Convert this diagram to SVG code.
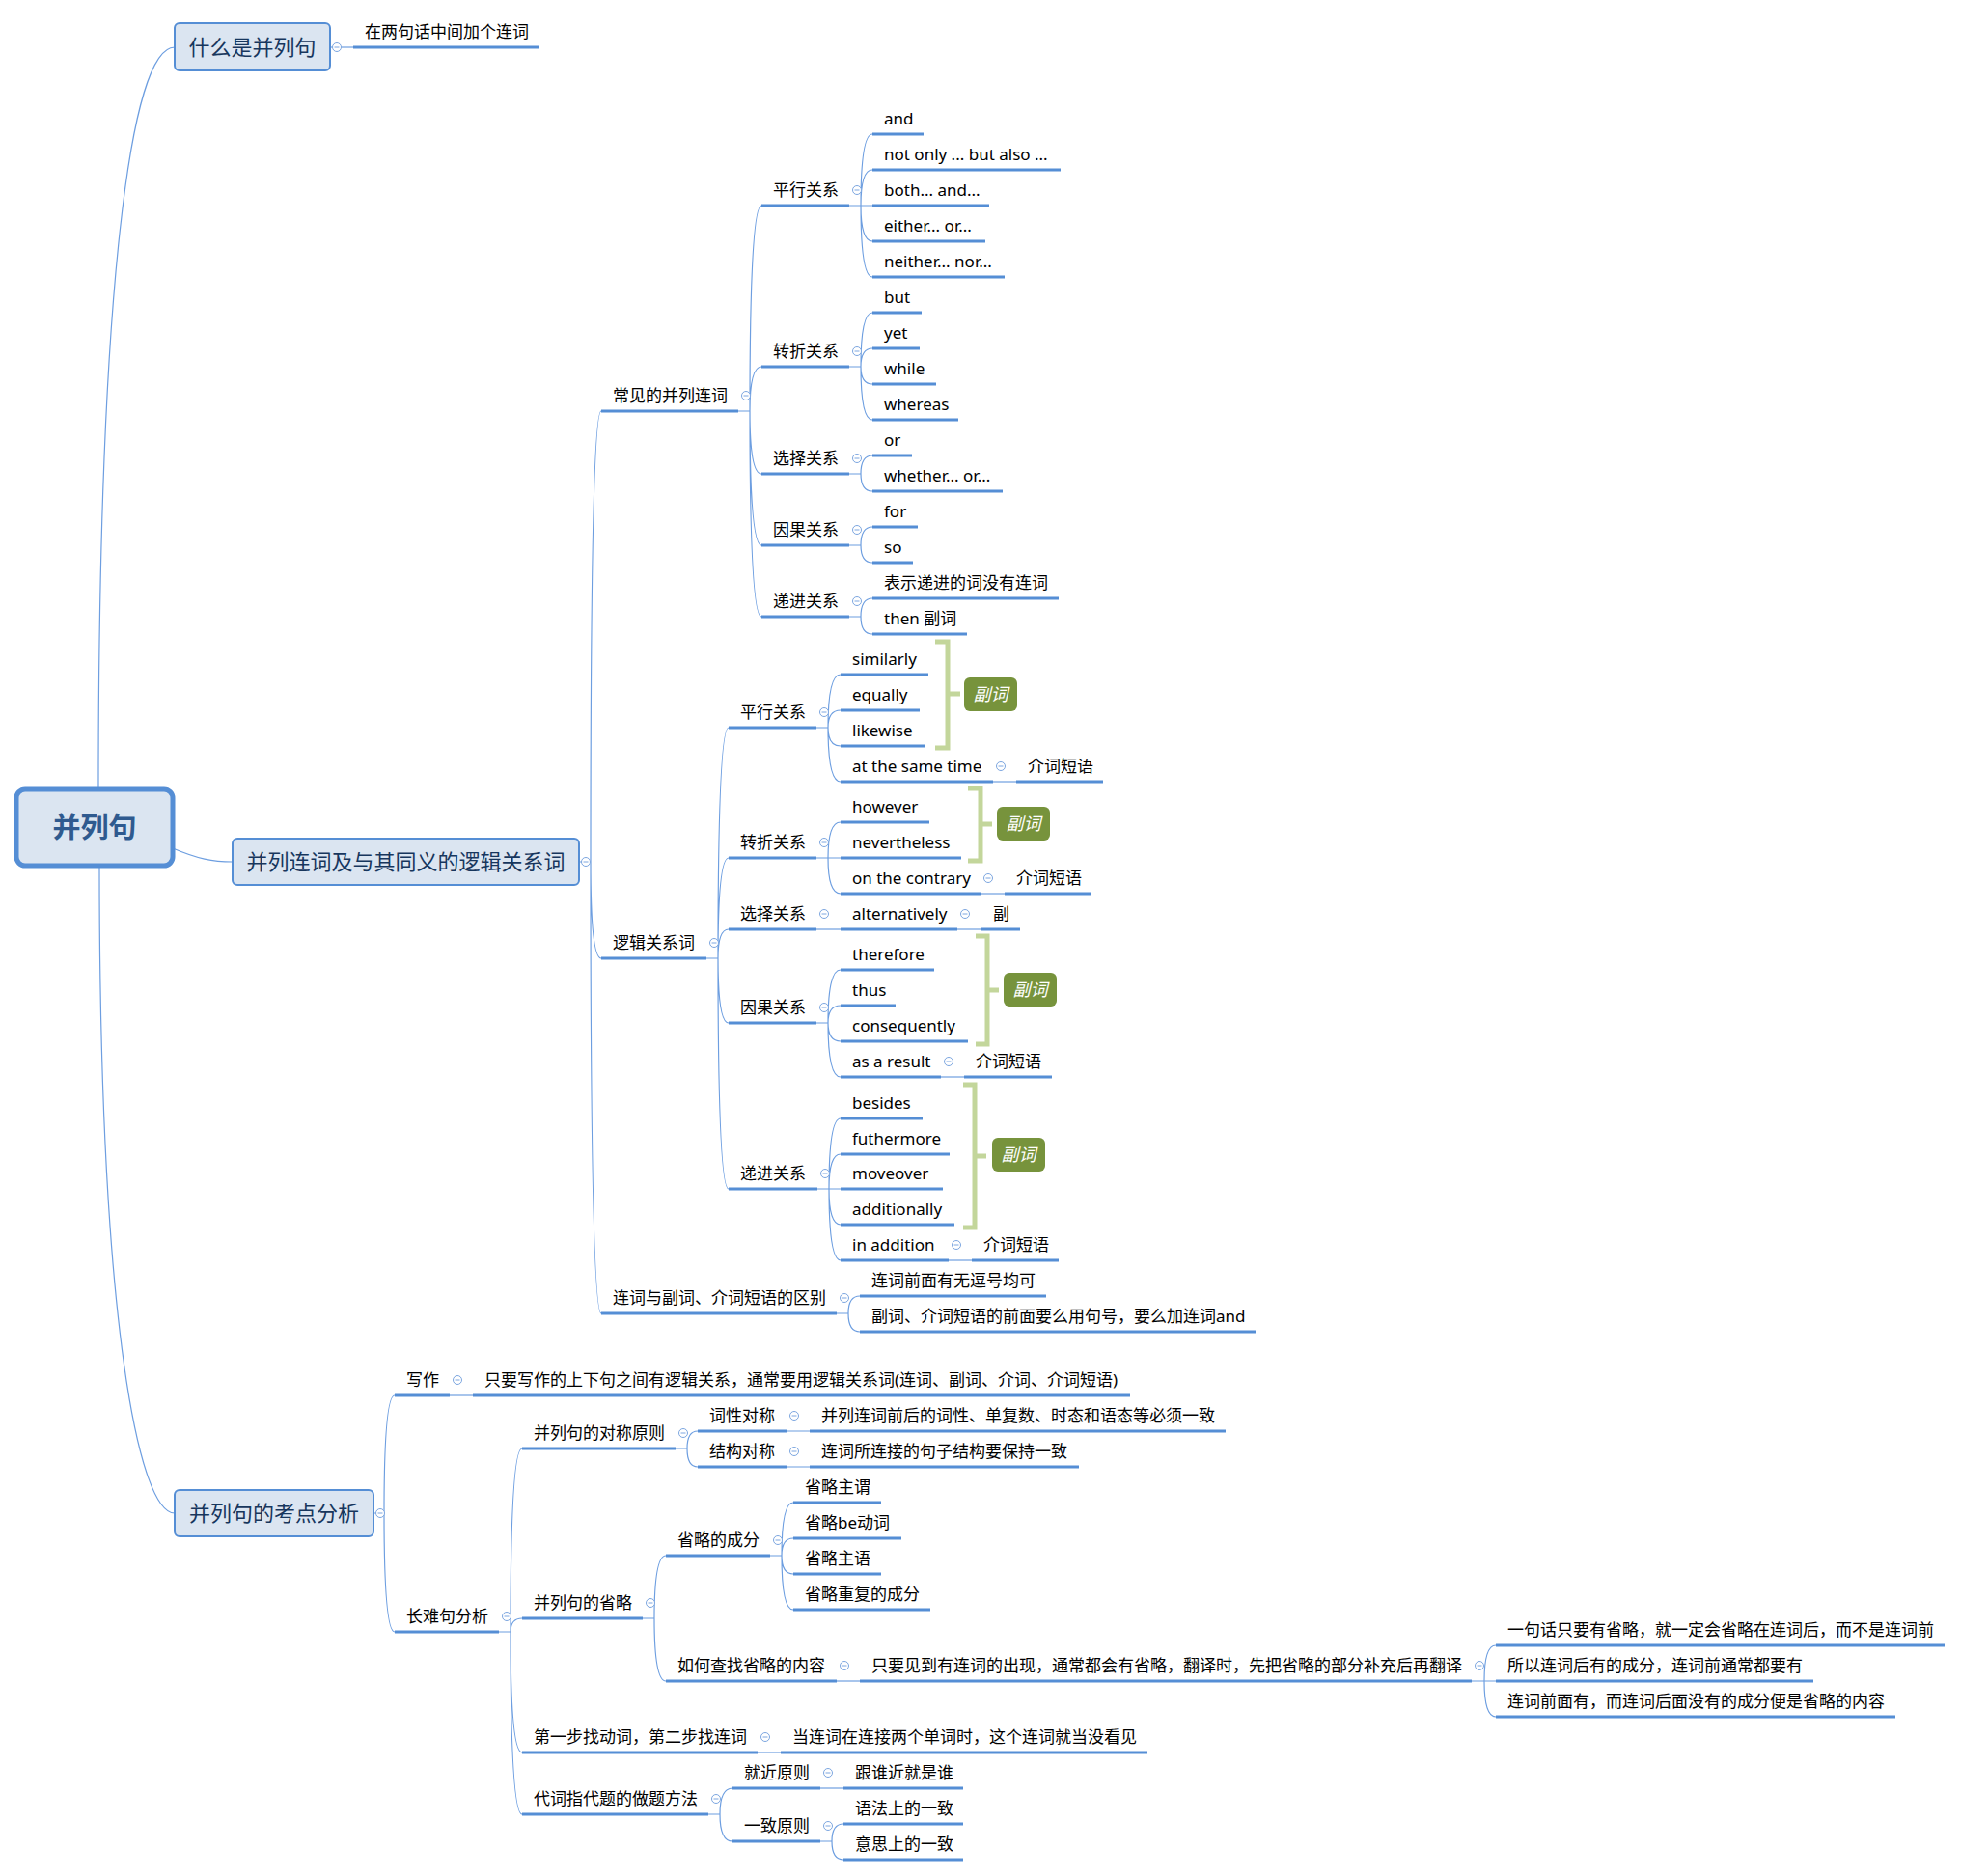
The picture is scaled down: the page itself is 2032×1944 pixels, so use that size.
<svg xmlns="http://www.w3.org/2000/svg" xmlns:xlink="http://www.w3.org/1999/xlink" width="2032" height="1944" viewBox="0 0 2032 1944">
<defs>
<style>
.c{fill:none;stroke:#6d9ee0;stroke-width:1.2}
.u{fill:none;stroke:#558ed5;stroke-width:3}
.t{font-family:"Noto Sans","Noto Sans CJK SC",sans-serif;font-size:17px;fill:#000}
.b{fill:#dbe5f1;stroke:#558ed5;stroke-width:2}
.bt{font-family:"Noto Sans","Noto Sans CJK SC",sans-serif;font-size:22px;fill:#17365d;text-anchor:middle}
.rt{font-family:"Noto Sans CJK SC",sans-serif;font-size:29px;font-weight:bold;fill:#2f5a8f;text-anchor:middle}
.br{fill:none;stroke:#c3d69b;stroke-width:5}
.sb{fill:#77933c}
.st{font-family:"Noto Sans CJK SC",sans-serif;font-size:18px;font-style:italic;fill:#fff;text-anchor:middle}
.k circle{fill:#fff;stroke:#7ca6e0;stroke-width:1}
.k path{stroke:#7ca6e0;stroke-width:1}
</style>
<g id="m" class="k"><circle r="4.5"/><path d="M-2.5 0H2.5"/></g>
</defs>
<rect width="2032" height="1944" fill="#fff"/>

<g id="connectors">
<path class="c" d="M102 818C102 300 135 49 181 49"/>
<path class="c" d="M179 879C205 890 220 893 241 893"/>
<path class="c" d="M103 897C103 1380 145 1568 181 1568"/>
<path class="c" d="M342 49H366"/>
<path class="c" d="M600 893H612M612 893Q612 426 623 426M612 893Q612 993 623 993M612 893Q612 1361 623 1361"/>
<path class="c" d="M765 426H777M777 426Q777 213 789 213M777 426Q777 380 789 380M777 426Q777 491 789 491M777 426Q777 565 789 565M777 426Q777 639 789 639"/>
<path class="c" d="M880 213H892M892 213Q892 139 904 139M892 213Q892 176 904 176M892 213H904M892 213Q892 250 904 250M892 213Q892 287 904 287"/>
<path class="c" d="M880 380H892M892 380Q892 324 904 324M892 380Q892 361 904 361M892 380Q892 398 904 398M892 380Q892 435 904 435"/>
<path class="c" d="M880 491H892M892 491Q892 472 904 472M892 491Q892 509 904 509"/>
<path class="c" d="M880 565H892M892 565Q892 546 904 546M892 565Q892 583 904 583"/>
<path class="c" d="M880 639H892M892 639Q892 620 904 620M892 639Q892 657 904 657"/>
<path class="c" d="M732 993H744M744 993Q744 754 755 754M744 993Q744 889 755 889M744 993Q744 963 755 963M744 993Q744 1060 755 1060M744 993Q744 1232 755 1232"/>
<path class="c" d="M846 754H858M858 754Q858 699 871 699M858 754Q858 736 871 736M858 754Q858 773 871 773M858 754Q858 810 871 810"/>
<path class="c" d="M1029 810H1053"/>
<path class="c" d="M846 889H858M858 889Q858 852 871 852M858 889H871M858 889Q858 926 871 926"/>
<path class="c" d="M1016 926H1041"/>
<path class="c" d="M846 963H871"/>
<path class="c" d="M992 963H1017"/>
<path class="c" d="M846 1060H858M858 1060Q858 1005 871 1005M858 1060Q858 1042 871 1042M858 1060Q858 1079 871 1079M858 1060Q858 1116 871 1116"/>
<path class="c" d="M975 1116H999"/>
<path class="c" d="M847 1232H859M859 1232Q859 1159 871 1159M859 1232Q859 1196 871 1196M859 1232H871M859 1232Q859 1269 871 1269M859 1232Q859 1306 871 1306"/>
<path class="c" d="M983 1306H1007"/>
<path class="c" d="M867 1361H879M879 1361Q879 1343 891 1343M879 1361Q879 1380 891 1380"/>
<path class="c" d="M387 1568H398M398 1568Q398 1446 409 1446M398 1568Q398 1691 409 1691"/>
<path class="c" d="M466 1446H490"/>
<path class="c" d="M517 1691H529M529 1691Q529 1501 541 1501M529 1691Q529 1677 541 1677M529 1691Q529 1816 541 1816M529 1691Q529 1880 541 1880"/>
<path class="c" d="M700 1501H712M712 1501Q712 1483 723 1483M712 1501Q712 1520 723 1520"/>
<path class="c" d="M815 1483H839M815 1520H839"/>
<path class="c" d="M666 1677H678M678 1677Q678 1612 690 1612M678 1677Q678 1742 690 1742"/>
<path class="c" d="M798 1612H810M810 1612Q810 1557 822 1557M810 1612Q810 1594 822 1594M810 1612Q810 1631 822 1631M810 1612Q810 1668 822 1668"/>
<path class="c" d="M867 1742H891"/>
<path class="c" d="M1525 1742H1538M1538 1742Q1538 1705 1550 1705M1538 1742H1550M1538 1742Q1538 1779 1550 1779"/>
<path class="c" d="M785 1816H809"/>
<path class="c" d="M734 1880H746M746 1880Q746 1853 759 1853M746 1880Q746 1908 759 1908"/>
<path class="c" d="M850 1853H874"/>
<path class="c" d="M850 1908H862M862 1908Q862 1890 874 1890M862 1908Q862 1927 874 1927"/>
</g>

<g id="root">
<rect x="17" y="818" width="162" height="79" rx="9" fill="#dbe5f1" stroke="#558ed5" stroke-width="5"/>
<text class="rt" x="98" y="868">并列句</text>
</g>

<g id="n-what">
<rect class="b" x="181" y="24" width="161" height="49" rx="5"/>
<text class="bt" x="261.5" y="57">什么是并列句</text>
<use href="#m" x="349" y="49"/>
</g>
<g id="n-what-1"><path class="u" d="M366 49H559"/><text class="t" x="378" y="39">在两句话中间加个连词</text></g>

<g id="n-conj">
<rect class="b" x="241" y="869" width="359" height="48" rx="5"/>
<text class="bt" x="420.5" y="901">并列连词及与其同义的逻辑关系词</text>
<use href="#m" x="607" y="893"/>
</g>

<g id="n-common"><path class="u" d="M623 426H765"/><text class="t" x="635" y="416">常见的并列连词</text><use href="#m" x="773" y="410"/></g>
<g id="n-a1"><path class="u" d="M789 213H880"/><text class="t" x="801" y="203">平行关系</text><use href="#m" x="888" y="197"/></g>
<g id="n-a1-1"><path class="u" d="M904 139H957"/><text class="t" x="916" y="129">and</text></g>
<g id="n-a1-2"><path class="u" d="M904 176H1099"/><text class="t" x="916" y="166">not only ... but also ...</text></g>
<g id="n-a1-3"><path class="u" d="M904 213H1025"/><text class="t" x="916" y="203">both... and...</text></g>
<g id="n-a1-4"><path class="u" d="M904 250H1021"/><text class="t" x="916" y="240">either... or...</text></g>
<g id="n-a1-5"><path class="u" d="M904 287H1041"/><text class="t" x="916" y="277">neither... nor...</text></g>
<g id="n-a2"><path class="u" d="M789 380H880"/><text class="t" x="801" y="370">转折关系</text><use href="#m" x="888" y="364"/></g>
<g id="n-a2-1"><path class="u" d="M904 324H955"/><text class="t" x="916" y="314">but</text></g>
<g id="n-a2-2"><path class="u" d="M904 361H953"/><text class="t" x="916" y="351">yet</text></g>
<g id="n-a2-3"><path class="u" d="M904 398H970"/><text class="t" x="916" y="388">while</text></g>
<g id="n-a2-4"><path class="u" d="M904 435H993"/><text class="t" x="916" y="425">whereas</text></g>
<g id="n-a3"><path class="u" d="M789 491H880"/><text class="t" x="801" y="481">选择关系</text><use href="#m" x="888" y="475"/></g>
<g id="n-a3-1"><path class="u" d="M904 472H945"/><text class="t" x="916" y="462">or</text></g>
<g id="n-a3-2"><path class="u" d="M904 509H1039"/><text class="t" x="916" y="499">whether... or...</text></g>
<g id="n-a4"><path class="u" d="M789 565H880"/><text class="t" x="801" y="555">因果关系</text><use href="#m" x="888" y="549"/></g>
<g id="n-a4-1"><path class="u" d="M904 546H951"/><text class="t" x="916" y="536">for</text></g>
<g id="n-a4-2"><path class="u" d="M904 583H946"/><text class="t" x="916" y="573">so</text></g>
<g id="n-a5"><path class="u" d="M789 639H880"/><text class="t" x="801" y="629">递进关系</text><use href="#m" x="888" y="623"/></g>
<g id="n-a5-1"><path class="u" d="M904 620H1097"/><text class="t" x="916" y="610">表示递进的词没有连词</text></g>
<g id="n-a5-2"><path class="u" d="M904 657H1002"/><text class="t" x="916" y="647">then 副词</text></g>

<g id="n-logic"><path class="u" d="M623 993H732"/><text class="t" x="635" y="983">逻辑关系词</text><use href="#m" x="740" y="977"/></g>
<g id="n-b1"><path class="u" d="M755 754H846"/><text class="t" x="767" y="744">平行关系</text><use href="#m" x="854" y="738"/></g>
<g id="n-b1-1"><path class="u" d="M871 699H962"/><text class="t" x="883" y="689">similarly</text></g>
<g id="n-b1-2"><path class="u" d="M871 736H953"/><text class="t" x="883" y="726">equally</text></g>
<g id="n-b1-3"><path class="u" d="M871 773H958"/><text class="t" x="883" y="763">likewise</text></g>
<g id="n-b1-4"><path class="u" d="M871 810H1029"/><text class="t" x="883" y="800">at the same time</text><use href="#m" x="1037" y="794"/></g>
<g id="n-b1-4-1"><path class="u" d="M1053 810H1143"/><text class="t" x="1065" y="800">介词短语</text></g>
<g id="s-b1"><path class="br" d="M969 665H982V775H969M982 719H995"/><rect class="sb" x="999" y="702" width="55" height="35" rx="6"/><text class="st" x="1026.5" y="726">副词</text></g>

<g id="n-b2"><path class="u" d="M755 889H846"/><text class="t" x="767" y="879">转折关系</text><use href="#m" x="854" y="873"/></g>
<g id="n-b2-1"><path class="u" d="M871 852H963"/><text class="t" x="883" y="842">however</text></g>
<g id="n-b2-2"><path class="u" d="M871 889H996"/><text class="t" x="883" y="879">nevertheless</text></g>
<g id="n-b2-3"><path class="u" d="M871 926H1016"/><text class="t" x="883" y="916">on the contrary</text><use href="#m" x="1024" y="910"/></g>
<g id="n-b2-3-1"><path class="u" d="M1041 926H1131"/><text class="t" x="1053" y="916">介词短语</text></g>
<g id="s-b2"><path class="br" d="M1003 817H1016V892H1003M1016 854H1028"/><rect class="sb" x="1033" y="836" width="55" height="35" rx="6"/><text class="st" x="1060.5" y="860">副词</text></g>

<g id="n-b3"><path class="u" d="M755 963H846"/><text class="t" x="767" y="953">选择关系</text><use href="#m" x="854" y="947"/></g>
<g id="n-b3-1"><path class="u" d="M871 963H992"/><text class="t" x="883" y="953">alternatively</text><use href="#m" x="1000" y="947"/></g>
<g id="n-b3-1-1"><path class="u" d="M1017 963H1057"/><text class="t" x="1029" y="953">副</text></g>

<g id="n-b4"><path class="u" d="M755 1060H846"/><text class="t" x="767" y="1050">因果关系</text><use href="#m" x="854" y="1044"/></g>
<g id="n-b4-1"><path class="u" d="M871 1005H968"/><text class="t" x="883" y="995">therefore</text></g>
<g id="n-b4-2"><path class="u" d="M871 1042H928"/><text class="t" x="883" y="1032">thus</text></g>
<g id="n-b4-3"><path class="u" d="M871 1079H1003"/><text class="t" x="883" y="1069">consequently</text></g>
<g id="n-b4-4"><path class="u" d="M871 1116H975"/><text class="t" x="883" y="1106">as a result</text><use href="#m" x="983" y="1100"/></g>
<g id="n-b4-4-1"><path class="u" d="M999 1116H1090"/><text class="t" x="1011" y="1106">介词短语</text></g>
<g id="s-b4"><path class="br" d="M1011 970H1023V1082H1011M1023 1026H1035"/><rect class="sb" x="1040" y="1008" width="55" height="35" rx="6"/><text class="st" x="1067.5" y="1032">副词</text></g>

<g id="n-b5"><path class="u" d="M755 1232H847"/><text class="t" x="767" y="1222">递进关系</text><use href="#m" x="855" y="1216"/></g>
<g id="n-b5-1"><path class="u" d="M871 1159H956"/><text class="t" x="883" y="1149">besides</text></g>
<g id="n-b5-2"><path class="u" d="M871 1196H984"/><text class="t" x="883" y="1186">futhermore</text></g>
<g id="n-b5-3"><path class="u" d="M871 1232H977"/><text class="t" x="883" y="1222">moveover</text></g>
<g id="n-b5-4"><path class="u" d="M871 1269H989"/><text class="t" x="883" y="1259">additionally</text></g>
<g id="n-b5-5"><path class="u" d="M871 1306H983"/><text class="t" x="883" y="1296">in addition</text><use href="#m" x="991" y="1290"/></g>
<g id="n-b5-5-1"><path class="u" d="M1007 1306H1097"/><text class="t" x="1019" y="1296">介词短语</text></g>
<g id="s-b5"><path class="br" d="M998 1124H1010V1272H998M1010 1198H1022"/><rect class="sb" x="1028" y="1179" width="55" height="35" rx="6"/><text class="st" x="1055.5" y="1203">副词</text></g>

<g id="n-diff"><path class="u" d="M623 1361H867"/><text class="t" x="635" y="1351">连词与副词、介词短语的区别</text><use href="#m" x="875" y="1345"/></g>
<g id="n-diff-1"><path class="u" d="M891 1343H1084"/><text class="t" x="903" y="1333">连词前面有无逗号均可</text></g>
<g id="n-diff-2"><path class="u" d="M891 1380H1301"/><text class="t" x="903" y="1370">副词、介词短语的前面要么用句号，要么加连词and</text></g>

<g id="n-test">
<rect class="b" x="181" y="1544" width="206" height="48" rx="5"/>
<text class="bt" x="284" y="1576">并列句的考点分析</text>
<use href="#m" x="394" y="1568"/>
</g>
<g id="n-write"><path class="u" d="M409 1446H466"/><text class="t" x="421" y="1436">写作</text><use href="#m" x="474" y="1430"/></g>
<g id="n-write-1"><path class="u" d="M490 1446H1171"/><text class="t" x="502" y="1436">只要写作的上下句之间有逻辑关系，通常要用逻辑关系词(连词、副词、介词、介词短语)</text></g>
<g id="n-long"><path class="u" d="M409 1691H517"/><text class="t" x="421" y="1681">长难句分析</text><use href="#m" x="525" y="1675"/></g>
<g id="n-e1"><path class="u" d="M541 1501H700"/><text class="t" x="553" y="1491">并列句的对称原则</text><use href="#m" x="708" y="1485"/></g>
<g id="n-e1-1"><path class="u" d="M723 1483H815"/><text class="t" x="735" y="1473">词性对称</text><use href="#m" x="823" y="1467"/></g>
<g id="n-e1-1-1"><path class="u" d="M839 1483H1270"/><text class="t" x="851" y="1473">并列连词前后的词性、单复数、时态和语态等必须一致</text></g>
<g id="n-e1-2"><path class="u" d="M723 1520H815"/><text class="t" x="735" y="1510">结构对称</text><use href="#m" x="823" y="1504"/></g>
<g id="n-e1-2-1"><path class="u" d="M839 1520H1118"/><text class="t" x="851" y="1510">连词所连接的句子结构要保持一致</text></g>
<g id="n-e2"><path class="u" d="M541 1677H666"/><text class="t" x="553" y="1667">并列句的省略</text><use href="#m" x="674" y="1661"/></g>
<g id="n-e2-1"><path class="u" d="M690 1612H798"/><text class="t" x="702" y="1602">省略的成分</text><use href="#m" x="806" y="1596"/></g>
<g id="n-e2-1-1"><path class="u" d="M822 1557H913"/><text class="t" x="834" y="1547">省略主谓</text></g>
<g id="n-e2-1-2"><path class="u" d="M822 1594H934"/><text class="t" x="834" y="1584">省略be动词</text></g>
<g id="n-e2-1-3"><path class="u" d="M822 1631H913"/><text class="t" x="834" y="1621">省略主语</text></g>
<g id="n-e2-1-4"><path class="u" d="M822 1668H964"/><text class="t" x="834" y="1658">省略重复的成分</text></g>
<g id="n-e2-2"><path class="u" d="M690 1742H867"/><text class="t" x="702" y="1732">如何查找省略的内容</text><use href="#m" x="875" y="1726"/></g>
<g id="n-e2-2-1"><path class="u" d="M891 1742H1525"/><text class="t" x="903" y="1732">只要见到有连词的出现，通常都会有省略，翻译时，先把省略的部分补充后再翻译</text><use href="#m" x="1533" y="1726"/></g>
<g id="n-e2-2-1-1"><path class="u" d="M1550 1705H2015"/><text class="t" x="1562" y="1695">一句话只要有省略，就一定会省略在连词后，而不是连词前</text></g>
<g id="n-e2-2-1-2"><path class="u" d="M1550 1742H1879"/><text class="t" x="1562" y="1732">所以连词后有的成分，连词前通常都要有</text></g>
<g id="n-e2-2-1-3"><path class="u" d="M1550 1779H1964"/><text class="t" x="1562" y="1769">连词前面有，而连词后面没有的成分便是省略的内容</text></g>
<g id="n-e3"><path class="u" d="M541 1816H785"/><text class="t" x="553" y="1806">第一步找动词，第二步找连词</text><use href="#m" x="793" y="1800"/></g>
<g id="n-e3-1"><path class="u" d="M809 1816H1189"/><text class="t" x="821" y="1806">当连词在连接两个单词时，这个连词就当没看见</text></g>
<g id="n-e4"><path class="u" d="M541 1880H734"/><text class="t" x="553" y="1870">代词指代题的做题方法</text><use href="#m" x="742" y="1864"/></g>
<g id="n-e4-1"><path class="u" d="M759 1853H850"/><text class="t" x="771" y="1843">就近原则</text><use href="#m" x="858" y="1837"/></g>
<g id="n-e4-1-1"><path class="u" d="M874 1853H998"/><text class="t" x="886" y="1843">跟谁近就是谁</text></g>
<g id="n-e4-2"><path class="u" d="M759 1908H850"/><text class="t" x="771" y="1898">一致原则</text><use href="#m" x="858" y="1892"/></g>
<g id="n-e4-2-1"><path class="u" d="M874 1890H998"/><text class="t" x="886" y="1880">语法上的一致</text></g>
<g id="n-e4-2-2"><path class="u" d="M874 1927H998"/><text class="t" x="886" y="1917">意思上的一致</text></g>
</svg>
